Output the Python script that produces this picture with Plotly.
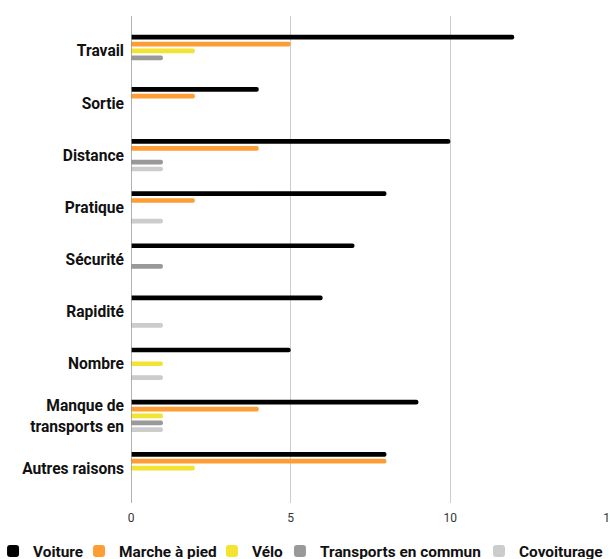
import plotly.graph_objects as go

# Reasons (top to bottom) and counts per transport mode
categories = [
    "Travail", "Sortie", "Distance", "Pratique", "Sécurité",
    "Rapidité", "Nombre", "Manque de<br>transports en", "Autres raisons",
]
voiture = [12, 4, 10, 8, 7, 6, 5, 9, 8]
marche = [5, 2, 4, 2, 0, 0, 0, 4, 8]
velo = [2, 0, 0, 0, 0, 0, 1, 1, 2]
transports = [1, 0, 1, 0, 1, 0, 0, 1, 0]
covoiturage = [0, 0, 1, 1, 0, 1, 1, 1, 0]

series = [
    ("Voiture", voiture, "#000000"),
    ("Marche à pied", marche, "#FF9D35"),
    ("Vélo", velo, "#F3E434"),
    ("Transports en commun", transports, "#999999"),
    ("Covoiturage", covoiturage, "#CCCCCC"),
]

# one legend box per series so the entries sit in a single compact row
legend_ids = ["legend", "legend2", "legend3", "legend4", "legend5"]
legend_x = [-0.288, -0.1085, 0.169, 0.311, 0.7265]

fig = go.Figure()
for (name, values, color), lid in zip(series, legend_ids):
    fig.add_trace(go.Bar(
        name=name,
        y=categories,
        x=values,
        orientation="h",
        legend=lid,
        marker=dict(color=color, line=dict(width=0), cornerradius=2),
    ))

legend_style = dict(
    orientation="h",
    xanchor="left",
    y=-0.0996,
    yanchor="middle",
    bgcolor="rgba(0,0,0,0)",
    font=dict(family="Roboto", size=15.4, color="#111111", weight="bold"),
    itemclick=False,
    itemdoubleclick=False,
)
legends = {lid: dict(legend_style, x=lx) for lid, lx in zip(legend_ids, legend_x)}

fig.update_layout(
    width=610,
    height=559,
    barmode="group",
    bargap=0.34,
    bargroupgap=0.32,
    paper_bgcolor="white",
    plot_bgcolor="white",
    margin=dict(l=131, r=0, t=16, b=56, autoexpand=False),
    font=dict(family="Roboto", color="#111111"),
    showlegend=True,
    xaxis=dict(
        range=[0, 15],
        tickvals=[0, 5, 10, 15],
        showgrid=True,
        gridcolor="#CCCCCC",
        gridwidth=1,
        zeroline=False,
        showline=False,
        ticks="",
        ticklabelstandoff=6,
        ticklabeloverflow="allow",
        tickfont=dict(family="Roboto", size=12, color="#333333"),
        fixedrange=True,
    ),
    yaxis=dict(
        type="category",
        range=[8.67, -0.67],
        showgrid=False,
        zeroline=False,
        showline=False,
        ticks="",
        ticklabelstandoff=6,
        tickfont=dict(family="Roboto", size=15.6, color="#111111", weight="bold"),
        fixedrange=True,
    ),
    shapes=[dict(
        type="line", xref="x", yref="paper",
        x0=0, x1=0, y0=0, y1=1,
        line=dict(color="#999999", width=1.5),
        layer="above",
    )],
    **legends,
)

fig.write_html("out.html")
